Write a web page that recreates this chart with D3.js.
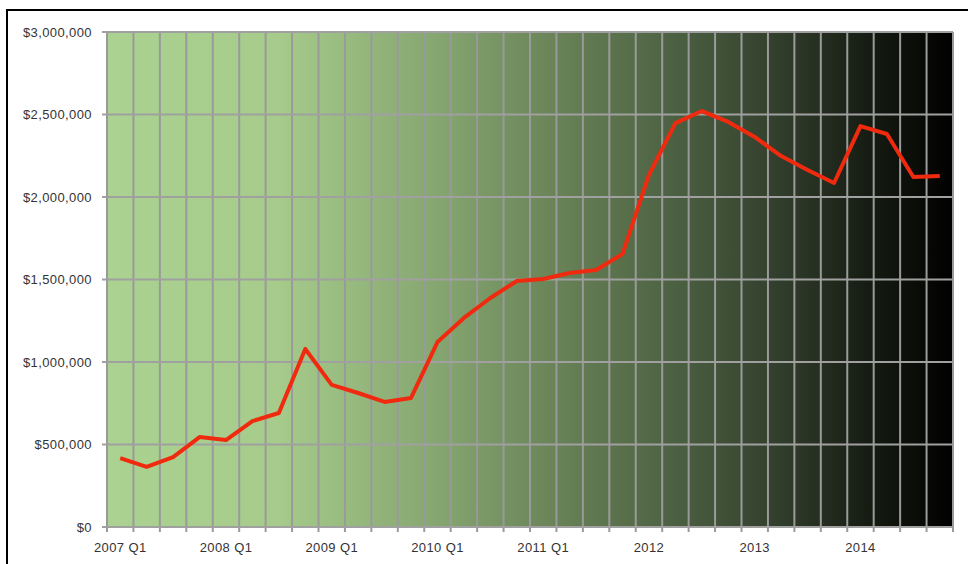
<!DOCTYPE html>
<html>
<head>
<meta charset="utf-8">
<script src="https://cdn.jsdelivr.net/npm/d3@7"></script>
<style>
body{margin:0;background:#fff;}
text{font-family:"Liberation Sans",Arial,sans-serif;fill:#333;letter-spacing:0.4px;}
</style>
</head>
<body>
<svg id="chart" width="968" height="564"></svg>
<script>
// quarters 2007 Q1 .. 2014 Q4
var quarters=[];
d3.range(2007,2015).forEach(y=>{[1,2,3,4].forEach(q=>quarters.push(y+' Q'+q));});
var tickLabels={'2007 Q1':'2007 Q1','2008 Q1':'2008 Q1','2009 Q1':'2009 Q1','2010 Q1':'2010 Q1',
  '2011 Q1':'2011 Q1','2012 Q1':'2012','2013 Q1':'2013','2014 Q1':'2014'};
var values=[418000,364000,424000,545000,527000,642000,691000,1079000,
  861000,812000,758000,782000,1121000,1267000,1388000,1491000,
  1503000,1539000,1558000,1655000,2135000,2448000,2521000,2455000,
  2364000,2248000,2164000,2085000,2430000,2382000,2121000,2127000];
var yTicks=[0,500000,1000000,1500000,2000000,2500000,3000000];

var svg=d3.select('#chart');
var pLeft=107,pRight=953,pTop=32,pBottom=527;

// outer frame
svg.append('rect').attr('x',7).attr('y',10).attr('width',970).attr('height',570)
  .style('fill','#fff').style('stroke','#000').style('stroke-width',2);

var x=d3.scaleBand().domain(quarters).range([pLeft,pRight]);
var y=d3.scaleLinear().domain([0,3000000]).range([pBottom,pTop]);

var defs=svg.append('defs');
var grad=defs.append('linearGradient').attr('id','bg').attr('x1','0%').attr('x2','100%').attr('y1','0%').attr('y2','0%');
[[0,'#abd291'],[0.2,'#a6cb8b'],[0.4,'#84a46f'],[0.55,'#657e54'],[0.67,'#4c6142'],[0.8,'#303c2b'],[0.9,'#161c12'],[1,'#000']]
  .forEach(s=>grad.append('stop').attr('offset',s[0]).attr('stop-color',s[1]));
svg.append('rect').attr('x',pLeft).attr('y',pTop).attr('width',pRight-pLeft).attr('height',pBottom-pTop).style('fill','url(#bg)');

// vertical grid at band boundaries
var bounds=quarters.map(q=>x(q)).concat([pRight]);
svg.append('g').selectAll('line').data(bounds).join('line')
  .attr('x1',d=>d).attr('x2',d=>d).attr('y1',pTop).attr('y2',pBottom+5)
  .style('stroke','#9a9a9a').style('stroke-width',2);

// horizontal grid
svg.append('g').selectAll('line').data(yTicks).join('line')
  .attr('x1',pLeft-5).attr('x2',pRight).attr('y1',d=>y(d)).attr('y2',d=>y(d))
  .style('stroke','#a0a0a0').style('stroke-width',2);

// y labels
svg.append('g').selectAll('text').data(yTicks).join('text')
  .attr('x',92).attr('y',d=>y(d)+4.5).attr('text-anchor','end').style('font-size','13px')
  .text(d=>d3.format('$,')(d));

// x labels
svg.append('g').selectAll('text').data(quarters.filter(q=>tickLabels[q])).join('text')
  .attr('x',d=>x(d)+x.bandwidth()/2).attr('y',552).attr('text-anchor','middle').style('font-size','13px')
  .text(d=>tickLabels[d]);

// line
var line=d3.line().x((d,i)=>x(quarters[i])+x.bandwidth()/2).y(d=>y(d));
svg.append('path').datum(values).attr('d',line)
  .style('fill','none').style('stroke','#f02a0e').style('stroke-width',4).style('stroke-linejoin','round');
</script>
</body>
</html>
